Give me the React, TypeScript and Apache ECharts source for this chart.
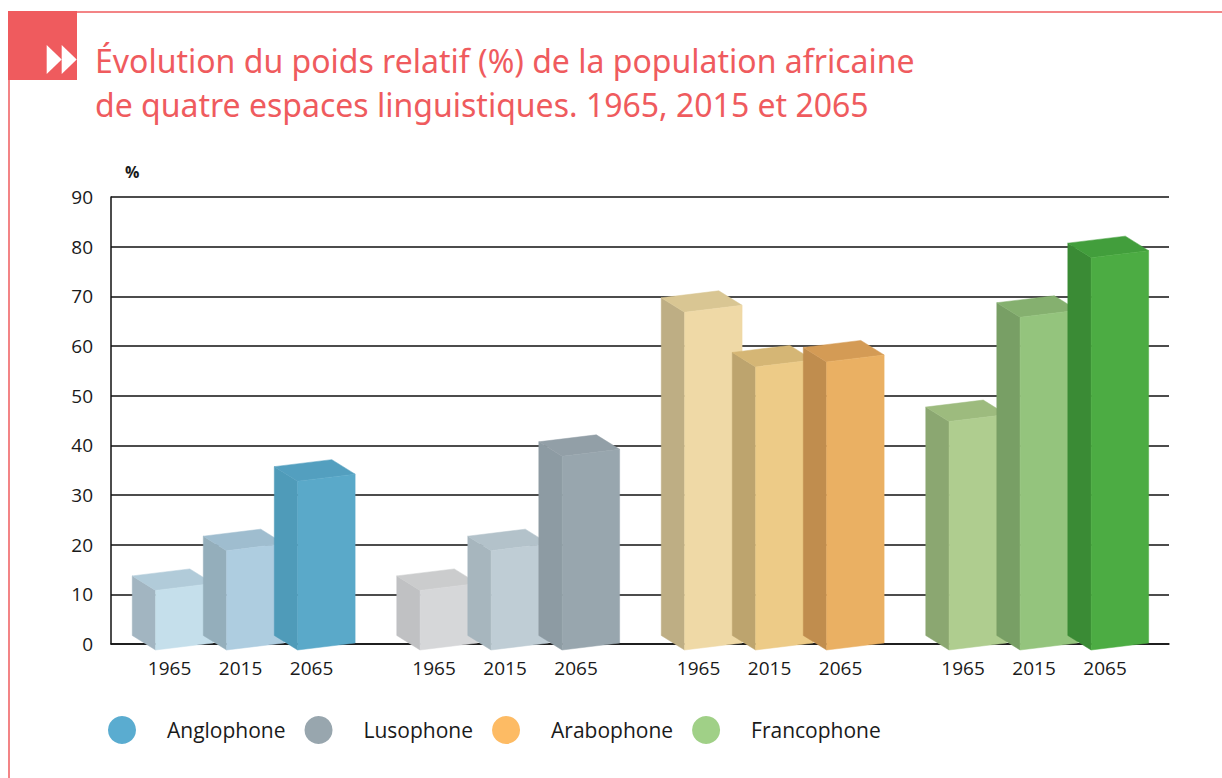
import React, { useEffect, useRef } from "react";
import * as echarts from "echarts";

const groups = ["Anglophone", "Lusophone", "Arabophone", "Francophone"];
const years = ["1965", "2015", "2065"];
const anglophone = [12, 20, 34];
const lusophone = [12, 20, 39];
const arabophone = [68, 57, 58];
const francophone = [46, 67, 79];
const seriesValues = [anglophone, lusophone, arabophone, francophone];
const yTicks = [0, 90, 10];

const legendColors = ["#5aacd0", "#98a6ae", "#fdbb64", "#a0d087"];
const frontColors = [
  ["#c5dfeb", "#aecde0", "#5aa9c9"],
  ["#d6d7d9", "#bfcdd5", "#98a6ae"],
  ["#efd9a6", "#edcb87", "#eab063"],
  ["#afcd8f", "#94c47d", "#4cac43"],
];
const sideColors = [
  ["#a2b5c1", "#94aebb", "#4f9bb9"],
  ["#c0c1c3", "#a7b6be", "#8d9ba3"],
  ["#beae84", "#bda46e", "#c08d4e"],
  ["#8ba771", "#789f65", "#3a8b35"],
];
const topColors = [
  ["#b1cbd9", "#9fbdcf", "#539fbf"],
  ["#cbcccd", "#b3c2ca", "#929fa7"],
  ["#d9c693", "#d5b675", "#d49b55"],
  ["#9dbb7e", "#85b06f", "#429e3c"],
];

const RED = "#ef5b5e";
const TXT = "#1a1a1a";
const FONT = "'Open Sans', 'Noto Sans', sans-serif";
const TITLE_FONT = "'Noto Sans', 'Open Sans', sans-serif";

function makeRenderItem(gi: number) {
  return (params: any, api: any) => {
    const g = api.value(0);
    const j = api.value(1);
    const v = api.value(2);
    const base = api.coord([g, 0]);
    const topPt = api.coord([g, v]);
    const band = api.size([1, 0])[0];
    const step = band * 0.2685;
    const W = band * 0.2175;
    const xL = base[0] + (j - 1) * step - band * 0.063;
    const xR = xL + W;
    const h = base[1] - topPt[1];
    const yBL = base[1] + 6;
    const yBR = base[1] - 1;
    const yTL = yBL - h;
    const yTR = yBR - h;
    const dx = -23.3;
    const dy = -14.5;
    const f = frontColors[gi][j];
    const s = sideColors[gi][j];
    const t = topColors[gi][j];
    return {
      type: "group",
      children: [
        {
          type: "polygon",
          shape: { points: [[xL, yBL], [xL, yTL], [xL + dx, yTL + dy], [xL + dx, yBL + dy]] },
          style: { fill: s, stroke: s, lineWidth: 0.5 },
        },
        {
          type: "polygon",
          shape: { points: [[xL, yTL], [xR, yTR], [xR + dx, yTR + dy], [xL + dx, yTL + dy]] },
          style: { fill: t, stroke: t, lineWidth: 0.5 },
        },
        {
          type: "polygon",
          shape: { points: [[xL, yBL], [xR, yBR], [xR, yTR], [xL, yTL]] },
          style: { fill: f, stroke: f, lineWidth: 0.5 },
        },
        {
          type: "text",
          x: xL + 14,
          y: base[1] + 24,
          style: {
            text: years[j],
            fill: TXT,
            font: `19px ${FONT}`,
            align: "center",
            verticalAlign: "middle",
          },
        },
      ],
    };
  };
}

export default function App() {
  const ref = useRef<HTMLDivElement>(null);
  useEffect(() => {
    if (!ref.current) return;
    const chart = echarts.init(ref.current, null, { renderer: "svg" });
    const option: any = {
      animation: false,
      backgroundColor: "#ffffff",
      title: {
        text: "Évolution du poids relatif (%) de la population africaine\nde quatre espaces linguistiques. 1965, 2015 et 2065",
        left: 90,
        top: 33,
        textStyle: {
          color: RED,
          fontSize: 32,
          fontWeight: "normal",
          lineHeight: 44,
          fontFamily: TITLE_FONT,
        },
      },
      legend: {
        left: 103,
        top: 711,
        icon: "circle",
        itemWidth: 28,
        itemHeight: 28,
        itemGap: 19,
        selectedMode: false,
        data: groups.map((n, i) => ({ name: n, itemStyle: { color: legendColors[i] } })),
        textStyle: { fontSize: 21, color: TXT, fontFamily: FONT, padding: [0, 0, 0, 26] },
      },
      grid: { left: 111, right: 53, top: 197, bottom: 134, containLabel: false },
      xAxis: {
        type: "category",
        data: groups,
        axisLine: { show: true, lineStyle: { color: "#111", width: 1.5 } },
        axisTick: { show: false },
        axisLabel: { show: false },
        splitLine: { show: false },
      },
      yAxis: {
        type: "value",
        min: yTicks[0],
        max: yTicks[1],
        interval: yTicks[2],
        name: "%",
        nameLocation: "end",
        nameGap: 17,
        nameTextStyle: { fontSize: 16, fontWeight: "bold", color: TXT, fontFamily: FONT, align: "left", padding: [0, 0, 0, 14] },
        axisLine: { show: true, lineStyle: { color: "#111", width: 1.5 } },
        axisTick: { show: false },
        axisLabel: { fontSize: 19, color: TXT, fontFamily: FONT, margin: 18 },
        splitLine: { show: true, lineStyle: { color: "#111", width: 1.5 } },
      },
      graphic: [
        { type: "line", shape: { x1: 8, y1: 12, x2: 1222, y2: 12 }, style: { stroke: RED, lineWidth: 1.5 }, z: 10 },
        { type: "line", shape: { x1: 9, y1: 12, x2: 9, y2: 778 }, style: { stroke: RED, lineWidth: 1.5 }, z: 10 },
        { type: "rect", shape: { x: 8, y: 11, width: 69, height: 69 }, style: { fill: RED }, z: 11 },
        { type: "polygon", shape: { points: [[46.7, 45], [61.7, 59.5], [46.7, 74]] }, style: { fill: "#ffffff" }, z: 12 },
        { type: "polygon", shape: { points: [[61.7, 45], [76.7, 59.5], [61.7, 74]] }, style: { fill: "#ffffff" }, z: 12 },
      ],
      series: groups.map((name, gi) => ({
        type: "custom",
        name,
        itemStyle: { color: legendColors[gi] },
        renderItem: makeRenderItem(gi),
        encode: { x: 0, y: 2 },
        clip: false,
        data: seriesValues[gi].map((v, j) => [gi, j, v]),
      })),
    };
    chart.setOption(option);
    return () => chart.dispose();
  }, []);
  return (
    <div
      ref={ref}
      style={{ position: "fixed", left: 0, top: 0, width: 1222, height: 778 }}
    />
  );
}
